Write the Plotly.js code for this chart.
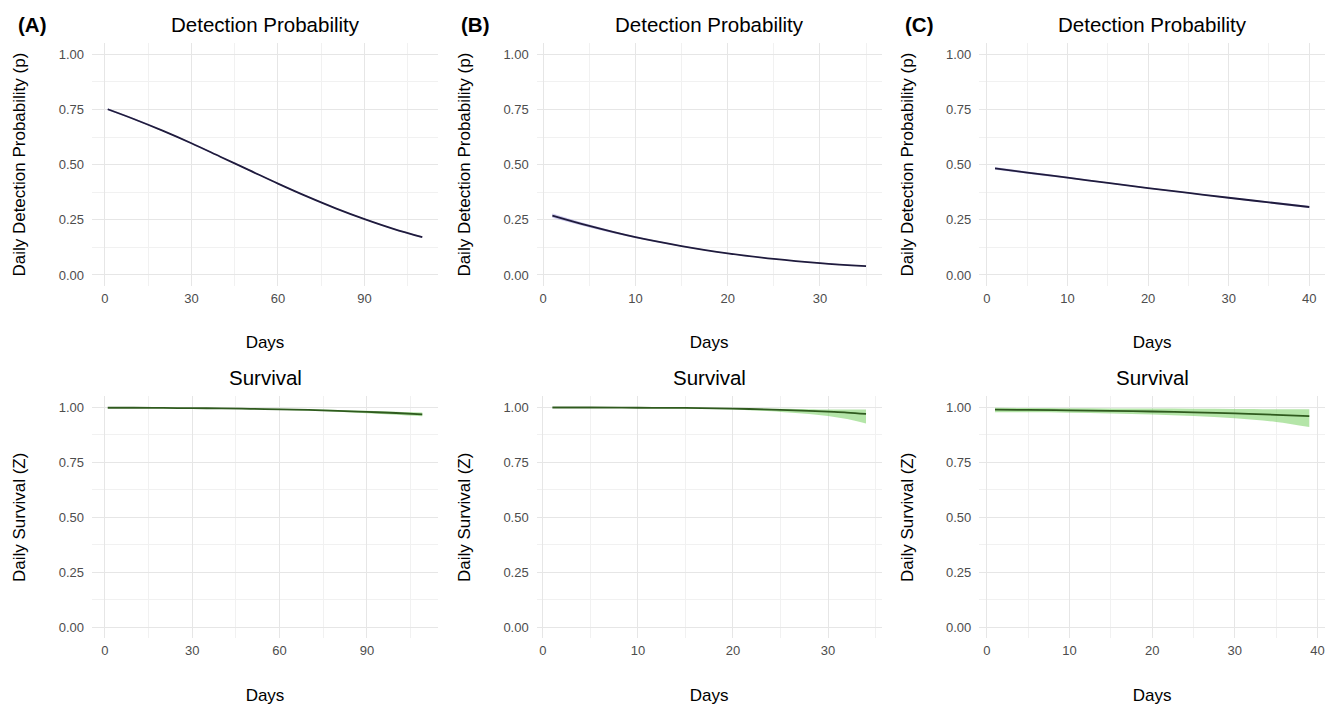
<!DOCTYPE html>
<html>
<head>
<meta charset="utf-8">
<script src="https://cdn.plot.ly/plotly-3.0.1.min.js"></script>
<style>html,body{margin:0;padding:0;background:#fff;}#chart{width:1327px;height:705px;}</style>
</head>
<body>
<div id="chart"></div>
<script>
// ---------- Data ----------
// Panel A – detection
const daysDetA = [1, 10, 20, 30, 40, 50, 60, 70, 80, 90, 100, 110];
const detA     = [0.751, 0.707, 0.654, 0.597, 0.536, 0.475, 0.414, 0.356, 0.302, 0.253, 0.209, 0.171];
const detALo   = [0.746, 0.703, 0.651, 0.594, 0.533, 0.472, 0.411, 0.353, 0.299, 0.250, 0.206, 0.167];
const detAHi   = [0.756, 0.711, 0.657, 0.600, 0.539, 0.478, 0.417, 0.359, 0.305, 0.256, 0.212, 0.175];
// Panel B – detection
const daysDetB = [1, 5, 10, 15, 20, 25, 30, 35];
const detB     = [0.269, 0.222, 0.171, 0.131, 0.098, 0.073, 0.054, 0.040];
const detBLo   = [0.259, 0.215, 0.167, 0.128, 0.096, 0.071, 0.052, 0.038];
const detBHi   = [0.279, 0.229, 0.175, 0.134, 0.100, 0.075, 0.056, 0.042];
// Panel C – detection
const daysDetC = [1, 5, 10, 15, 20, 25, 30, 35, 40];
const detC     = [0.483, 0.464, 0.441, 0.417, 0.394, 0.372, 0.350, 0.329, 0.308];
const detCLo   = [0.477, 0.459, 0.437, 0.414, 0.391, 0.369, 0.347, 0.325, 0.303];
const detCHi   = [0.489, 0.469, 0.445, 0.420, 0.397, 0.375, 0.353, 0.333, 0.313];
// Panel A – survival
const daysSurvA = [1, 10, 20, 30, 40, 50, 60, 70, 80, 90, 100, 109];
const survA     = [0.998, 0.998, 0.997, 0.996, 0.995, 0.993, 0.991, 0.988, 0.984, 0.979, 0.974, 0.968];
const survALo   = [0.997, 0.997, 0.996, 0.995, 0.993, 0.991, 0.989, 0.985, 0.980, 0.973, 0.966, 0.959];
const survAHi   = [0.999, 0.999, 0.998, 0.997, 0.996, 0.995, 0.993, 0.991, 0.988, 0.984, 0.980, 0.976];
// Panel B – survival
const daysSurvB = [1, 5, 10, 15, 20, 25, 28, 30, 32, 34];
const survB     = [0.999, 0.999, 0.998, 0.997, 0.994, 0.988, 0.984, 0.980, 0.976, 0.970];
const survBLo   = [0.998, 0.998, 0.997, 0.995, 0.990, 0.979, 0.970, 0.961, 0.947, 0.926];
const survBHi   = [1.000, 1.000, 0.999, 0.998, 0.996, 0.993, 0.991, 0.990, 0.990, 0.990];
// Panel C – survival
const daysSurvC = [1, 5, 10, 15, 20, 25, 30, 35, 39];
const survC     = [0.989, 0.988, 0.986, 0.984, 0.981, 0.977, 0.972, 0.966, 0.960];
const survCLo   = [0.978, 0.977, 0.975, 0.972, 0.967, 0.960, 0.950, 0.933, 0.910];
const survCHi   = [0.998, 0.997, 0.996, 0.995, 0.994, 0.993, 0.992, 0.991, 0.991];

// Axis ranges / ticks
const xRangeA = [-4.45, 115.45], xRangeAS = [-4.4, 114.4];
const xRangeB = [-0.7, 36.7],    xRangeBS = [-0.65, 35.65];
const xRangeC = [-0.95, 41.95],  xRangeCS = [-0.9, 40.9];
const xTicksA = [0, 30, 60, 90], xMinorA = [15, 45, 75, 105];
const xTicksB = [0, 10, 20, 30], xMinorB = [5, 15, 25, 35];
const xTicksC = [0, 10, 20, 30, 40], xMinorC = [5, 15, 25, 35];
const yRange = [-0.05, 1.05];
const yTickVals = [0, 0.25, 0.5, 0.75, 1];
const yTickText = ['0.00', '0.25', '0.50', '0.75', '1.00'];
const yMinor = [0.125, 0.375, 0.625, 0.875];

// ---------- Styles ----------
const FONT = 'Liberation Sans, Arial, Helvetica, sans-serif';
const detLine = '#1f1b3d', detFill = 'rgba(110,100,200,0.35)';
const survLine = '#2f5a1e', survFill = 'rgba(130,212,110,0.6)';

function band(x, lo, hi, line, fill, mid, xa, ya) {
  return [
    {x: x, y: lo, xaxis: xa, yaxis: ya, mode: 'lines', line: {width: 0, shape: 'spline', color: fill}, hoverinfo: 'skip', showlegend: false},
    {x: x, y: hi, xaxis: xa, yaxis: ya, mode: 'lines', line: {width: 0, shape: 'spline', color: fill}, fill: 'tonexty', fillcolor: fill, hoverinfo: 'skip', showlegend: false},
    {x: x, y: mid, xaxis: xa, yaxis: ya, mode: 'lines', line: {width: 1.8, shape: 'spline', color: line}, showlegend: false}
  ];
}

const data = [].concat(
  band(daysDetA, detALo, detAHi, detLine, detFill, detA, 'x', 'y'),
  band(daysDetB, detBLo, detBHi, detLine, detFill, detB, 'x2', 'y2'),
  band(daysDetC, detCLo, detCHi, detLine, detFill, detC, 'x3', 'y3'),
  band(daysSurvA, survALo, survAHi, survLine, survFill, survA, 'x4', 'y4'),
  band(daysSurvB, survBLo, survBHi, survLine, survFill, survB, 'x5', 'y5'),
  band(daysSurvC, survCLo, survCHi, survLine, survFill, survC, 'x6', 'y6')
);

const W = 1327, H = 705;
const colDom = [[92 / W, 438 / W], [536.7 / W, 881.7 / W], [979.3 / W, 1325 / W]];
const rowDom = [[1 - 286 / H, 1 - 43.3 / H], [1 - 638.3 / H, 1 - 396.3 / H]];

function xax(dom, range, ticks, minor, anchor) {
  return {
    domain: dom, range: range, anchor: anchor, tickvals: ticks, ticktext: ticks.map(String),
    showgrid: true, gridcolor: '#e6e6e6', gridwidth: 1, zeroline: false, showline: false,
    ticks: '', ticklabelstandoff: 3, tickfont: {family: FONT, size: 13, color: '#4d4d4d'},
    minor: {tickvals: minor, showgrid: true, gridcolor: '#f1f1f1', gridwidth: 1},
    title: {text: 'Days', font: {family: FONT, size: 17, color: '#000'}, standoff: 31},
    fixedrange: true
  };
}
function yax(dom, title, anchor) {
  return {
    domain: dom, range: yRange, anchor: anchor, tickvals: yTickVals, ticktext: yTickText,
    showgrid: true, gridcolor: '#e6e6e6', gridwidth: 1, zeroline: false, showline: false,
    ticks: '', ticklabelstandoff: 7, tickfont: {family: FONT, size: 13, color: '#4d4d4d'},
    minor: {tickvals: yMinor, showgrid: true, gridcolor: '#f1f1f1', gridwidth: 1},
    title: {text: title, font: {family: FONT, size: 17, color: '#000'}, standoff: 28},
    fixedrange: true
  };
}

const detTitle = 'Daily Detection Probability (p)';
const survTitle = 'Daily Survival (Z)';

const layout = {
  width: W, height: H,
  margin: {l: 0, r: 0, t: 0, b: 0},
  paper_bgcolor: '#fff', plot_bgcolor: '#fff',
  showlegend: false,
  xaxis:  xax(colDom[0], xRangeA, xTicksA, xMinorA, 'y'),
  xaxis2: xax(colDom[1], xRangeB, xTicksB, xMinorB, 'y2'),
  xaxis3: xax(colDom[2], xRangeC, xTicksC, xMinorC, 'y3'),
  xaxis4: xax(colDom[0], xRangeAS, xTicksA, xMinorA, 'y4'),
  xaxis5: xax(colDom[1], xRangeBS, xTicksB, xMinorB, 'y5'),
  xaxis6: xax(colDom[2], xRangeCS, xTicksC, xMinorC, 'y6'),
  yaxis:  yax(rowDom[0], detTitle, 'x'),
  yaxis2: yax(rowDom[0], detTitle, 'x2'),
  yaxis3: yax(rowDom[0], detTitle, 'x3'),
  yaxis4: yax(rowDom[1], survTitle, 'x4'),
  yaxis5: yax(rowDom[1], survTitle, 'x5'),
  yaxis6: yax(rowDom[1], survTitle, 'x6'),
  annotations: []
};

const panelTitles = ['Detection Probability', 'Survival'];
const tags = ['(A)', '(B)', '(C)'];
const tagX = [32, 475, 919];
for (let c = 0; c < 3; c++) {
  const cx = (colDom[c][0] + colDom[c][1]) / 2;
  layout.annotations.push({text: panelTitles[0], xref: 'paper', yref: 'paper', x: cx, y: 1 - 24 / H, xanchor: 'center', yanchor: 'middle', showarrow: false, font: {family: FONT, size: 20.5, color: '#000'}});
  layout.annotations.push({text: panelTitles[1], xref: 'paper', yref: 'paper', x: cx, y: 1 - 377 / H, xanchor: 'center', yanchor: 'middle', showarrow: false, font: {family: FONT, size: 20.5, color: '#000'}});
  layout.annotations.push({text: '<b>' + tags[c] + '</b>', xref: 'paper', yref: 'paper', x: tagX[c] / W, y: 1 - 24 / H, xanchor: 'center', yanchor: 'middle', showarrow: false, font: {family: FONT, size: 20.5, color: '#000'}});
}

Plotly.newPlot('chart', data, layout, {displayModeBar: false, staticPlot: true});
</script>
</body>
</html>
